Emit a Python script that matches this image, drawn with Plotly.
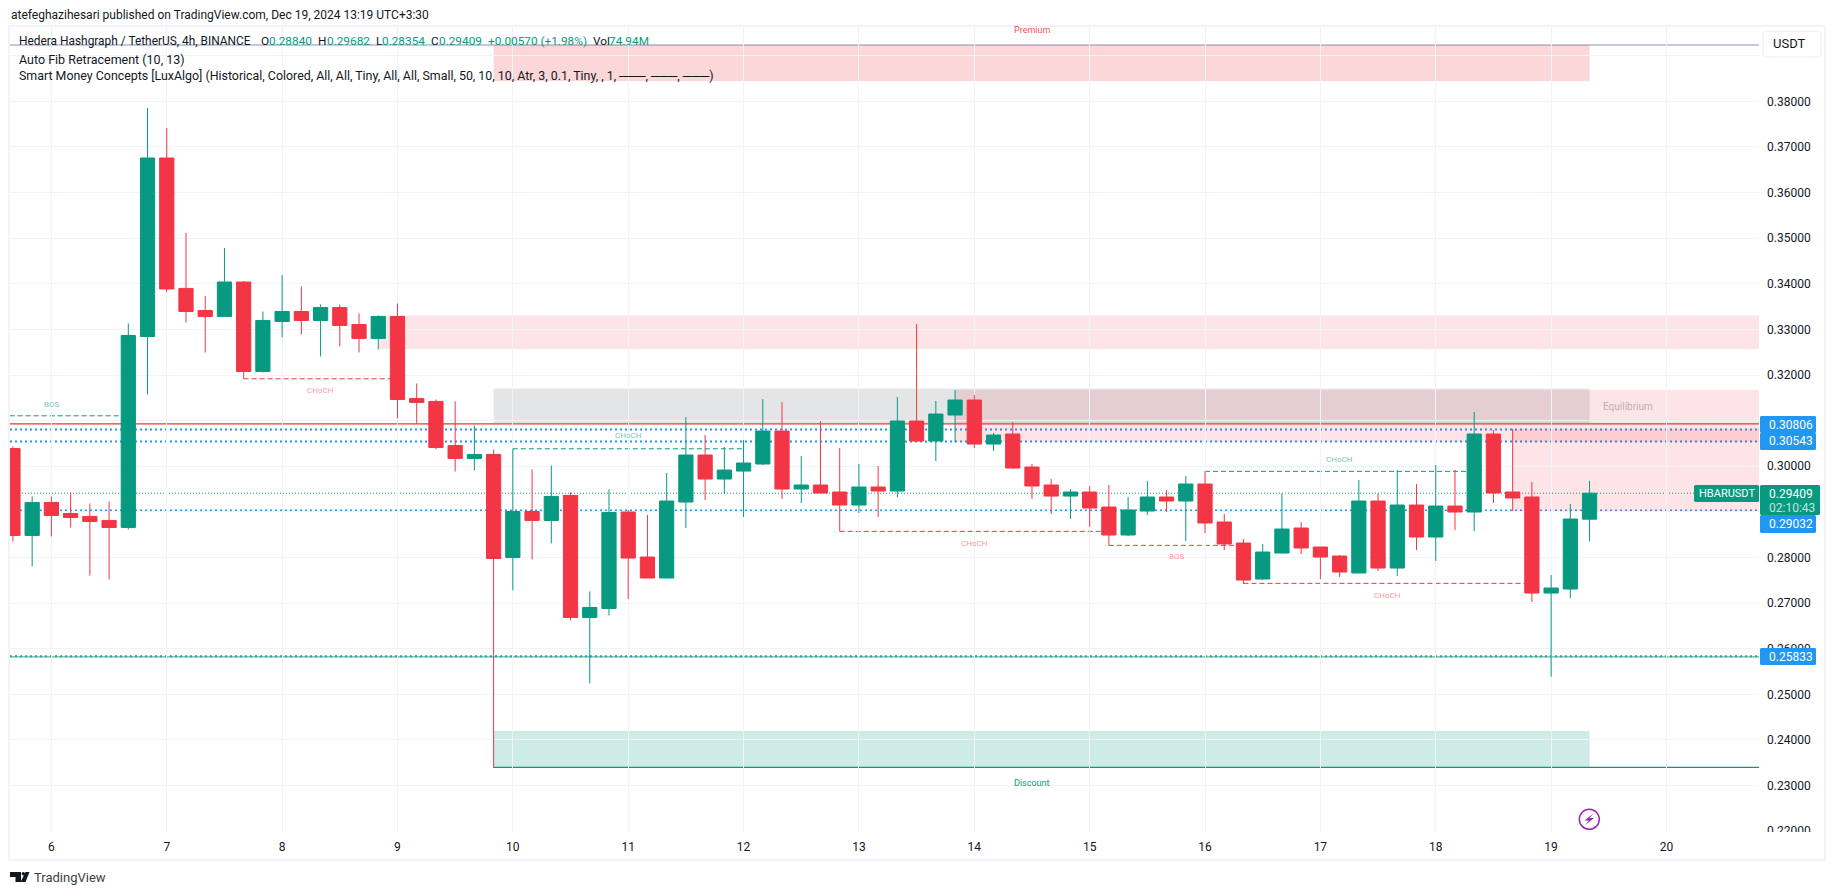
import plotly.graph_objects as go

# ---- data ----
opens = [.30390,.28483,.29207,.28965,.28900,.28812,.28658,.32845,.36757,.33898,.33415,.33284,.34039,.32078,.33174,.33393,.33196,.33481,.33108,.32802,.33284,
         .31486,.31421,.30456,.30171,.30259,.27999,.29009,.28812,.29360,.26686,.26883,.28997,.28010,.27550,.29216,.30246,.29720,.29895,.30049,.30772,
         .29501,.29589,.29435,.29150,.29545,.29457,.30992,.30553,.31123,.31452,.30487,.30707,.29983,.29589,.29347,.29435,.29106,.28493,.29019,.29326,
         .29238,.29611,.28778,.28317,.27528,.28098,.28646,.28230,.28032,.27660,.29238,.27769,.29150,.28449,.29128,.28997,.30707,.29435,.29326,.27221,.27309,.28840]
highs = [.30434,.29338,.29338,.29426,.29185,.29228,.33130,.37854,.37415,.35113,.33732,.34785,.34061,.33393,.34193,.33941,.33547,.33547,.33350,.33306,.33569,
         .31815,.31464,.31421,.30894,.30368,.30383,.29930,.30018,.29426,.27256,.29491,.29041,.28931,.29852,.31079,.30685,.30422,.30575,.31474,.31408,
         .30224,.30992,.30400,.30049,.30005,.31518,.33118,.31430,.31671,.31561,.30728,.30970,.30049,.29720,.29501,.29567,.29589,.29326,.29676,.29479,
         .29786,.29895,.28953,.28405,.28296,.29406,.28778,.28230,.28054,.29699,.29406,.29918,.29611,.30027,.29918,.31189,.30795,.30816,.29655,.27616,.29172,.29682]
lows = [.28352,.27803,.28461,.28658,.27606,.27519,.28615,.31574,.33820,.33152,.32495,.33284,.31917,.32056,.32824,.32889,.32407,.32626,.32495,.32560,.31048,
        .30931,.30368,.29886,.29908,.23390,.27277,.27957,.28308,.26620,.25239,.26729,.27090,.27550,.27550,.28646,.29260,.29391,.28887,.30027,.29282,
        .29194,.29413,.28573,.28975,.28887,.29326,.30531,.30115,.30531,.30400,.30334,.29939,.29282,.28953,.28843,.28668,.28266,.28471,.28931,.28997,
        .28361,.28536,.28164,.27418,.27506,.28098,.28076,.27528,.27572,.27660,.27704,.27594,.28164,.27923,.28602,.28580,.29194,.29019,.27024,.25387,.27112,.28354]
closes = [.28483,.29207,.28922,.28878,.28790,.28658,.32867,.36757,.33886,.33393,.33284,.34039,.32078,.33196,.33393,.33196,.33481,.33087,.32802,.33284,.31464,
          .31399,.30412,.30171,.30259,.27979,.29009,.28812,.29338,.26686,.26905,.28987,.27988,.27550,.29238,.30246,.29720,.29917,.30071,.30772,.29501,
          .29589,.29413,.29150,.29545,.29457,.30992,.30553,.31145,.31452,.30487,.30685,.29961,.29567,.29347,.29435,.29084,.28493,.29041,.29326,.29238,
          .29611,.28756,.28296,.27506,.28120,.28624,.28208,.28011,.27682,.29238,.27769,.29150,.28449,.29128,.28997,.30707,.29414,.29304,.27221,.27331,.28843,.29409]

day_labels = [str(d) for d in range(6, 21)]
day_bars = [2 + 6 * i for i in range(15)]
price_ticks = [0.22,0.23,0.24,0.25,0.26,0.27,0.28,0.29,0.30,0.31,0.32,0.33,0.34,0.35,0.36,0.37,0.38,0.39]
price_hidden = [0.29, 0.31, 0.39]   # covered by price tags / the USDT button in the reference

# (first bar, last bar, price, colour key, label, label price)
structures = [
    (-1, 5.6, .31106, "up", "BOS", .31362),
    (12, 20, .31917, "dn", "CHoCH", .31654),
    (26, 38, .30383, "up", "CHoCH", .30677),
    (43, 57, .28573, "dn", "CHoCH", .28303),
    (57, 64, .28266, "dn", "BOS", .28018),
    (62, 76, .29888, "up", "CHoCH", .30151),
    (64, 79, .27433, "dn", "CHoCH", .27170),
]
# (first bar, last bar, high, low, fill)
zones = [
    (25, 82, .39234, .38445, "rgba(242,54,69,0.2)"),
    (19, 91, .33306, .32568, "rgba(242,54,69,0.13)"),
    (25, 82, .31706, .30941, "rgba(120,123,134,0.2)"),
    (49, 91, .31671, .30538, "rgba(242,54,69,0.13)"),
    (78, 91, .30816, .29019, "rgba(242,54,69,0.13)"),
    (25, 82, .24197, .23401, "rgba(8,153,129,0.2)"),
]
blue_levels = [.30806, .30543, .29032, .25833]
last_price = .29409
red_level = .30931
green_level = .2582
top_level = .39234
bottom_level = .23401

UP, DN, BLUE, INK = "#089981", "#F23645", "#2196F3", "#131722"
W, H = 1835, 895
L, R, T, B = 10, 1759, 27, 832
FONT = "Roboto"
XR = [2 + (L - 51.4) / 19.227, 2 + (R - 51.4) / 19.227]
YR = [.38 - (B - 101.3) / 4562, .38 - (T - 101.3) / 4562]


def X(p): return (p - L) / (R - L)
def Y(p): return 1 - (p - T) / (B - T)


shapes, notes = [], []


def txt(x, y, s, size=12, color=INK, xa="left", **kw):
    notes.append(dict(xref="paper", yref="paper", x=X(x), y=Y(y), text=s, showarrow=False, xanchor=xa, yanchor="middle",
                      font=dict(size=size, color=color, family=kw.pop("family", FONT)), borderpad=0, **kw))


def poly(d, fill=None, line=None, width=1, layer="above"):
    shapes.append(dict(type="path", xref="paper", yref="paper", path=d, fillcolor=fill or "rgba(0,0,0,0)",
                       line=dict(color=line or "rgba(0,0,0,0)", width=width if line else 0), layer=layer))


def rrect(x0, y0, x1, y1, r):
    p = lambda a, b: f"{X(a):.5f},{Y(b):.5f}"
    return (f"M{p(x0 + r, y0)} L{p(x1 - r, y0)} Q{p(x1, y0)} {p(x1, y0 + r)} L{p(x1, y1 - r)} Q{p(x1, y1)} {p(x1 - r, y1)} "
            f"L{p(x0 + r, y1)} Q{p(x0, y1)} {p(x0, y1 - r)} L{p(x0, y0 + r)} Q{p(x0, y0)} {p(x0 + r, y0)} Z")


def pts(lst):
    return "M" + " L".join(f"{X(a):.5f},{Y(b):.5f}" for a, b in lst) + " Z"


def hline(price, color, width=1, dash="solid", x0=0, x1=1):
    shapes.append(dict(type="line", xref="paper", yref="y", x0=x0, x1=x1, y0=price, y1=price,
                       line=dict(color=color, width=width, dash=dash), layer="below"))


for a, b, hi, lo, fill in zones:
    shapes.append(dict(type="rect", xref="x", yref="y", x0=a, x1=b, y0=lo, y1=hi, fillcolor=fill, line=dict(width=0), layer="below"))

hline(top_level, "#8a94b4", 1.2)
hline(red_level, "#E53935", 1.3)
hline(green_level, "#66BB6A", 1.2)
for v in blue_levels:
    hline(v, BLUE, 2, "2px,3px")
hline(last_price, UP, 1, "1px,2px")
shapes.append(dict(type="line", xref="x", yref="y", x0=25, x1=XR[1], y0=bottom_level, y1=bottom_level,
                   line=dict(color=UP, width=1.3), layer="below"))

for a, b, price, kind, label, lab_p in structures:
    c = UP if kind == "up" else DN
    shapes.append(dict(type="line", xref="x", yref="y", x0=a, x1=b, y0=price, y1=price,
                       line=dict(color=c, width=1, dash="5px,3px"), layer="below"))
    mid = (a + b) / 2 if a >= 0 else 2
    notes.append(dict(xref="x", yref="y", x=mid, y=lab_p, text=label, showarrow=False,
                      font=dict(size=8, color="rgba(8,153,129,0.6)" if kind == "up" else "rgba(242,54,69,0.55)", family=FONT)))

notes.append(dict(xref="x", yref="y", x=53, y=.39234, yshift=15, text="Premium", showarrow=False, font=dict(size=9, color="rgba(242,54,69,0.9)", family=FONT)))
notes.append(dict(xref="x", yref="y", x=53, y=.23401, yshift=-16, text="Discount", showarrow=False, font=dict(size=9, color=UP, family=FONT)))
notes.append(dict(xref="x", yref="y", x=84, y=.3130, text="Equilibrium", showarrow=False, font=dict(size=10, color="rgba(120,123,134,0.55)", family=FONT)))

# header and legend
txt(10, 15, "atefeghazihesari published on TradingView.com, Dec 19, 2024 13:19 UTC+3:30", 12)
txt(18, 41, "Hedera Hashgraph / TetherUS, 4h, BINANCE", 11.9)
for x, s, c in [(260, "O", INK), (268, "0.28840", UP), (317, "H", INK), (326, "0.29682", UP), (374.5, "L", INK), (381, "0.28354", UP),
                (430, "C", INK), (438, "0.29409", UP), (487, "+0.00570 (+1.98%)", UP), (592, "Vol", INK), (608, "74.94M", UP)]:
    txt(x, 41, s, 11.8, c)
txt(18, 59, "Auto Fib Retracement (10, 13)", 12.5)
txt(18, 76, "Smart Money Concepts [LuxAlgo] (Historical, Colored, All, All, Tiny, All, All, Small, 50, 10, 10, Atr, 3, 0.1, Tiny, , 1, ───, ───, ───)", 12.4)

# frame, axis mask, price scale widgets
shapes.append(dict(type="rect", xref="paper", yref="paper", x0=X(1760), x1=X(1823), y0=Y(832), y1=Y(843), fillcolor="white", line=dict(width=0), layer="above"))
shapes.append(dict(type="rect", xref="paper", yref="paper", x0=X(9), x1=X(1825), y0=Y(26), y1=Y(860), fillcolor="rgba(0,0,0,0)", line=dict(color="#F0F3FA", width=2), layer="above"))
poly(rrect(1763, 31, 1821, 57, 4), "white", "#F0F3FA", 1.5)
txt(1772, 44, "USDT", 13)

for y0, y1, s in [(416, 433, "0.30806"), (433, 450, "0.30543"), (515, 533, "0.29032"), (648, 665, "0.25833")]:
    poly(rrect(1760, y0, 1816, y1, 1.5), BLUE)
    txt(1768, (y0 + y1) / 2, s, 12, "white")
poly(rrect(1694, 485, 1759, 502, 1.5), UP)
txt(1698, 493.5, "HBARUSDT", 11, "white")
poly(rrect(1760, 485, 1820, 515, 1.5), UP)
txt(1768, 493.5, "0.29409", 12, "white")
txt(1768, 507.5, "02:10:43", 12, "rgba(255,255,255,0.75)")

# lightning badge
shapes.append(dict(type="circle", xref="paper", yref="paper", x0=X(1579.3), x1=X(1599.3), y0=Y(809.3), y1=Y(829.3), fillcolor="white", line=dict(color="#9C27B0", width=1.5), layer="above"))
poly(pts([(1593.5, 813.5), (1584.5, 820.5), (1589, 820.5), (1585, 825.2), (1594, 818), (1589.6, 818)]), "#9C27B0")

# TradingView logo
poly(pts([(10, 872), (21, 872), (21, 882), (15.5, 882), (15.5, 877), (10, 877)]), INK)
shapes.append(dict(type="circle", xref="paper", yref="paper", x0=X(21.6), x1=X(25), y0=Y(872), y1=Y(875.4), fillcolor=INK, line=dict(width=0), layer="above"))
poly(pts([(25.5, 872), (29.5, 872), (25.5, 882), (20.5, 882)]), INK)
txt(33, 877.5, "TradingView", 13, "#3a3e49")

fig = go.Figure(go.Candlestick(
    x=list(range(len(opens))), open=opens, high=highs, low=lows, close=closes, whiskerwidth=0,
    increasing=dict(line=dict(color=UP, width=1), fillcolor=UP),
    decreasing=dict(line=dict(color=DN, width=1), fillcolor=DN),
    hoverinfo="skip", showlegend=False))

fig.update_layout(
    width=W, height=H, margin=dict(l=L, r=W - R, t=T, b=H - B, pad=0), paper_bgcolor="white", plot_bgcolor="white",
    boxgap=0.26, boxgroupgap=0, shapes=shapes, annotations=notes, showlegend=False, dragmode=False,
    font=dict(family=FONT, size=12, color=INK),
    xaxis=dict(range=XR, tickmode="array", tickvals=day_bars, ticktext=day_labels, showgrid=True, gridcolor="#F0F3FA", gridwidth=1,
               zeroline=False, ticks="", showline=False, rangeslider=dict(visible=False), tickfont=dict(size=12, color=INK, family=FONT), ticklabelstandoff=6),
    yaxis=dict(range=YR, side="right", tickmode="array", tickvals=price_ticks,
               ticktext=["" if v in price_hidden else f"{v:.5f}" for v in price_ticks], showgrid=True, gridcolor="#F0F3FA", gridwidth=1,
               zeroline=False, ticks="", showline=False, tickfont=dict(size=12, color=INK, family=FONT), ticklabelstandoff=7),
)
fig.write_html("out.html", config=dict(displayModeBar=False, responsive=False), post_script="document.body.style.margin='0';document.body.style.overflow='hidden';")
